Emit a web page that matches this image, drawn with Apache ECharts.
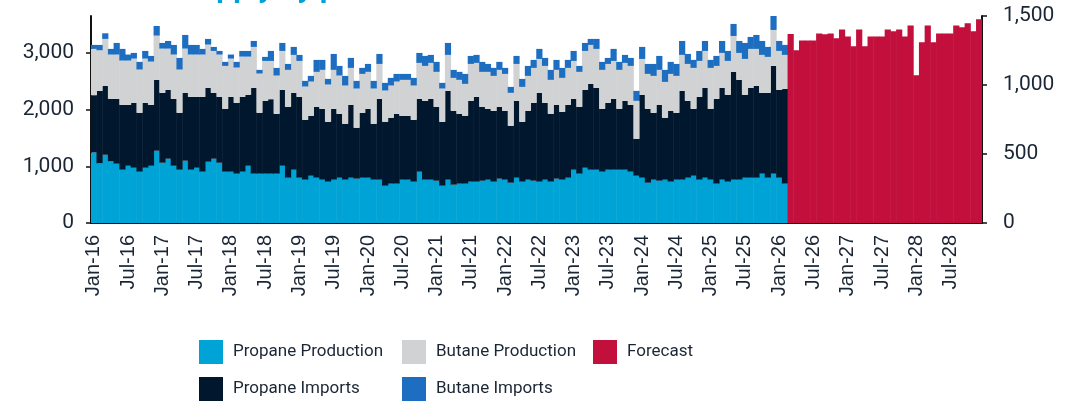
<!DOCTYPE html>
<html>
<head>
<meta charset="utf-8">
<script src="https://cdn.jsdelivr.net/npm/echarts@6/dist/echarts.min.js"></script>
<style>
html,body{margin:0;padding:0;background:#fff;}
#chart{width:1082px;height:402px;}
</style>
</head>
<body>
<div id="chart"></div>
<script>
// Categories: monthly Jan-16 .. Dec-28
const monthNames = ['Jan','Feb','Mar','Apr','May','Jun','Jul','Aug','Sep','Oct','Nov','Dec'];
const years = ['16','17','18','19','20','21','22','23','24','25','26','27','28'];
const categories = [];
years.forEach(y => monthNames.forEach(m => categories.push(m + '-' + y)));

// Historical series (Jan-16 .. Feb-26), stacked, left axis
const propaneProduction = [1244,1051,1203,1086,1045,939,1009,974,904,974,1009,1274,1062,1133,1009,939,1098,939,974,904,1080,1133,1062,904,904,869,904,1009,869,869,869,869,869,1009,798,939,798,763,833,798,763,728,763,798,763,798,781,798,798,763,763,657,693,693,763,763,728,904,763,763,745,657,763,675,693,693,728,728,745,763,728,781,763,710,798,728,763,745,728,763,728,781,763,798,939,869,974,939,939,904,939,939,939,939,904,833,798,710,763,745,763,728,763,763,798,833,763,798,763,693,763,728,763,763,798,798,798,869,798,869,798,693];
const propaneImports = [1010,1279,1215,1103,1144,1144,1074,1145,1039,1145,1074,1250,1233,1215,1180,1004,1197,1285,1250,1320,1303,1162,1162,1109,1320,1250,1320,1251,1514,1074,1285,1314,1056,1339,1250,1356,1426,1056,1057,1250,1250,1056,1250,1127,986,1285,898,1145,1215,986,1426,1127,1162,1232,1127,1127,1091,1285,1391,1426,1303,1127,1567,1303,1232,1197,1426,1496,1303,1250,1250,1267,1215,1004,1356,1056,1215,1374,1567,1356,1197,1302,1197,1285,1250,1179,1374,1514,1444,1109,1180,1250,1074,1215,1179,652,1462,1303,1180,1338,1092,1250,1180,1567,1356,1180,1461,1585,1250,1496,1620,1532,1902,1761,1462,1585,1620,1426,1497,1901,1550,1672];
const butaneProduction = [816,716,828,781,781,781,781,780,763,780,763,780,780,727,781,763,780,746,746,746,763,739,746,757,675,622,710,674,722,692,704,675,675,686,652,669,634,587,604,617,687,658,687,675,675,652,692,686,652,622,616,552,569,569,634,634,605,634,616,634,617,587,634,581,599,563,651,599,617,652,616,652,651,581,651,616,616,616,598,651,599,617,599,652,669,617,686,687,687,687,686,669,687,669,687,669,633,616,651,617,633,651,651,634,651,722,634,651,722,581,616,598,633,475,633,687,652,669,634,634,686,599];
const butaneImports = [70,94,99,100,205,206,106,100,135,135,100,170,100,135,170,205,241,170,170,100,100,71,64,71,71,100,100,100,105,65,71,176,135,141,105,141,106,100,100,211,176,99,281,170,170,176,135,106,140,135,176,135,135,135,105,105,135,176,176,141,176,100,211,141,141,176,141,141,176,140,141,141,106,105,141,141,176,141,177,141,176,176,176,141,176,105,141,106,176,141,106,212,141,141,141,176,212,176,211,246,212,212,211,246,176,141,176,176,141,176,211,176,212,211,282,211,246,246,176,246,176,176];

// Forecast (Mar-26 .. Dec-28), right axis
const forecast = [1369,1251,1323,1323,1323,1374,1367,1374,1338,1403,1352,1280,1403,1280,1352,1352,1352,1403,1389,1403,1352,1432,1070,1309,1432,1309,1374,1374,1374,1432,1418,1447,1389,1476];

const leftTicks = [0,1000,2000,3000];
const rightTicks = [0,500,1000,1500];

const colors = {
  pp: '#00A3D5',
  pi: '#00172D',
  bp: '#D0D2D3',
  bi: '#1D6EC0',
  fc: '#C20F3C'
};
const textColor = '#1B2635';

const nHist = propaneProduction.length;
const nFc = forecast.length;
const padHist = arr => arr.concat(new Array(nFc).fill(null));
const padFc = arr => new Array(nHist).fill(null).concat(arr);
const fmt = v => Number(v).toLocaleString('en-US');

function barSeries(name, data, color, axis, stack) {
  return {
    name: name, type: 'bar', stack: stack, yAxisIndex: axis,
    data: data, barWidth: 6.2, barGap: '-100%',
    itemStyle: { color: color }, emphasis: { disabled: true }, animation: false
  };
}

function legendItem(name, left, top) {
  return {
    data: [name], left: left, top: top, icon: 'rect', padding: 0,
    itemWidth: 24, itemHeight: 24, selectedMode: false,
    textStyle: { fontFamily: 'Roboto', fontSize: 17, color: textColor, padding: [0,0,0,5] }
  };
}

const chart = echarts.init(document.getElementById('chart'), null, { renderer: 'canvas' });
chart.setOption({
  animation: false,
  title: {
    text: 'Supply by product', left: 176, top: -31,
    textStyle: { fontFamily: 'Roboto', fontWeight: 'bold', fontSize: 30, color: '#00A3D9' }
  },
  legend: [
    legendItem('Propane Production', 199, 340),
    legendItem('Butane Production', 402, 340),
    legendItem('Forecast', 593, 340),
    legendItem('Propane Imports', 199, 377),
    legendItem('Butane Imports', 402, 377)
  ],
  grid: { left: 91, right: 100, top: 16, bottom: 179, containLabel: false },
  xAxis: {
    type: 'category', data: categories, boundaryGap: true,
    axisLine: { lineStyle: { color: '#111111', width: 2 } },
    axisTick: { show: false },
    axisLabel: {
      interval: 5, rotate: 90, margin: 12, padding: [5,0,0,0],
      fontFamily: 'Liberation Sans', fontSize: 20, color: textColor
    }
  },
  yAxis: [
    {
      type: 'value', position: 'left', min: 0, max: 3650, interval: 1000,
      splitLine: { show: false },
      axisLine: { show: true, lineStyle: { color: '#111111', width: 2 } },
      axisTick: { show: true, length: 5, customValues: leftTicks, lineStyle: { color: '#111111', width: 1.5 } },
      axisLabel: { customValues: leftTicks, formatter: fmt, fontFamily: 'Roboto', fontSize: 21, color: textColor, margin: 17 }
    },
    {
      type: 'value', position: 'right', min: 0, max: 1500, interval: 500,
      splitLine: { show: false },
      axisLine: { show: true, lineStyle: { color: '#111111', width: 2 } },
      axisTick: { show: true, length: 5, customValues: rightTicks, lineStyle: { color: '#111111', width: 1.5 } },
      axisLabel: { customValues: rightTicks, formatter: fmt, fontFamily: 'Roboto', fontSize: 21, color: textColor, margin: 21 }
    }
  ],
  series: [
    barSeries('Propane Production', padHist(propaneProduction), colors.pp, 0, 'hist'),
    barSeries('Propane Imports', padHist(propaneImports), colors.pi, 0, 'hist'),
    barSeries('Butane Production', padHist(butaneProduction), colors.bp, 0, 'hist'),
    barSeries('Butane Imports', padHist(butaneImports), colors.bi, 0, 'hist'),
    barSeries('Forecast', padFc(forecast), colors.fc, 1, 'fc')
  ]
});
</script>
</body>
</html>
